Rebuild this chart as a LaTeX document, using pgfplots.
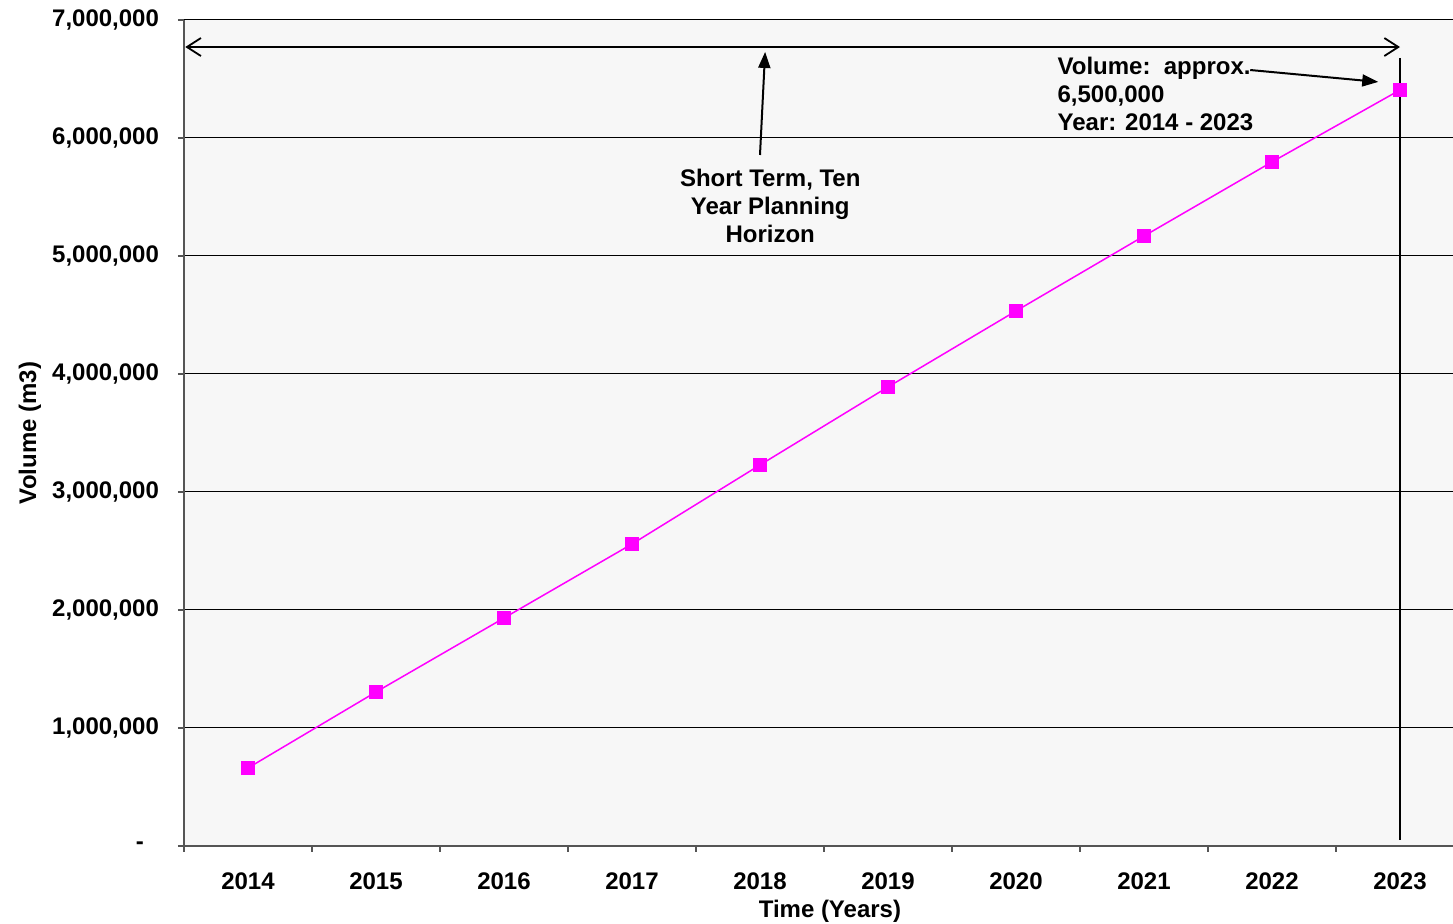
\documentclass[border=0pt]{standalone}
\usepackage{fontspec}
\setmainfont{Liberation Sans}
\usepackage{pgfplots}
\pgfplotsset{compat=1.18}
\usetikzlibrary{arrows.meta}
\definecolor{bg}{HTML}{F7F7F7}
\definecolor{spine}{HTML}{555555}
\definecolor{mag}{RGB}{255,0,255}
\begin{document}
\begin{tikzpicture}[font=\fontsize{12}{14}\selectfont\bfseries]
\useasboundingbox (-92pt,-39pt) rectangle (634.5pt,423pt);
\begin{axis}[at={(0,0)}, anchor=south west, scale only axis,
  width=634.5pt, height=413pt,
  xmin=-0.5, xmax=9.414, ymin=0, ymax=7000000,
  axis x line=bottom, axis y line=left,
  axis line style={spine, -, line width=0.8pt},
  xtick={0,1,2,3,4,5,6,7,8,9},
  xticklabels={2014,2015,2016,2017,2018,2019,2020,2021,2022,2023},
  minor xtick={-0.5,0.5,1.5,2.5,3.5,4.5,5.5,6.5,7.5,8.5},
  ytick={0,1000000,2000000,3000000,4000000,5000000,6000000,7000000},
  yticklabels={{-\rule{7.5pt}{0pt}},{1,000,000},{2,000,000},{3,000,000},{4,000,000},{5,000,000},{6,000,000},{7,000,000}},
  tick align=outside, major tick length=3pt, minor tick length=3pt,
  major x tick style={draw=none},
  minor x tick style={spine, line width=0.6pt},
  major y tick style={spine, line width=0.6pt},
  ymajorgrids, grid style={black, line width=0.5pt},
  axis background/.style={fill=bg},
  xticklabel style={font=\fontsize{12}{14}\selectfont\bfseries, yshift=-7pt},
  yticklabel style={font=\fontsize{12}{14}\selectfont\bfseries, xshift=-6pt},
  xlabel={Time (Years)}, ylabel={Volume (m3)},
  xlabel style={at={(axis description cs:0.509,-0.0787)}, anchor=center},
  ylabel style={at={(axis description cs:-0.1214,0.5)}, anchor=center},
  clip=false,
]
\addplot[mag, line width=0.75pt, mark=square*, mark size=3pt, mark options={fill=mag}]
  coordinates {(0,661000)(1,1305000)(2,1932000)(3,2559000)(4,3229000)(5,3890000)(6,4534000)(7,5169000)(8,5797000)(9,6407000)};
\draw[{Straight Barb[length=7pt,width=9pt]}-{Straight Barb[length=7pt,width=9pt]}, line width=0.9pt]
  (axis cs:-0.49,6771000) -- (axis cs:9,6771000);
\draw[-{Triangle[length=8pt,width=6pt]}, line width=1pt]
  (axis cs:4.0,5856000) -- (axis cs:4.04,6729000);
\node[align=center] at (axis cs:4.08,5424000) {Short Term, Ten\\Year Planning\\Horizon};
\node[align=left, anchor=west] at (axis cs:6.27,6373000) {Volume:\ \ approx.\\6,500,000\\Year: 2014 - 2023};
\draw[-{Triangle[length=8pt,width=6pt]}, line width=1pt]
  (axis cs:7.83,6576000) -- (axis cs:8.83,6475000);
\draw[line width=0.9pt] (axis cs:9,6678000) -- (axis cs:9,51000);
\end{axis}
\end{tikzpicture}
\end{document}
